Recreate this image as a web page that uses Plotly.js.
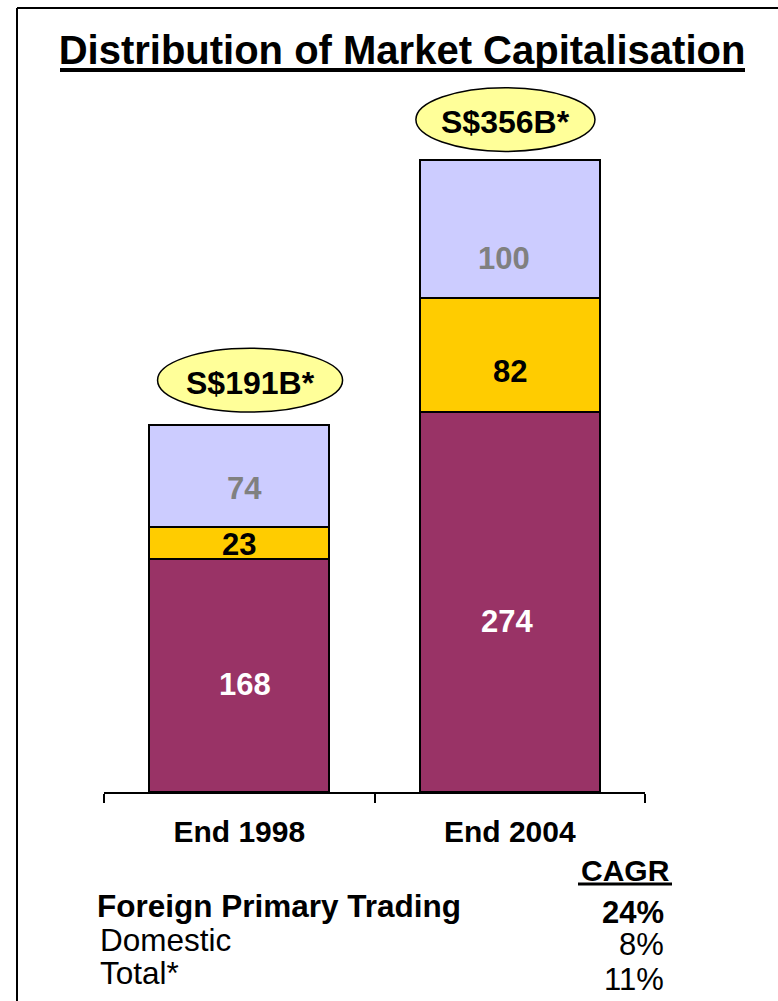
<!DOCTYPE html>
<html>
<head>
<meta charset="utf-8">
<script src="https://cdn.plot.ly/plotly-3.0.1.min.js"></script>
<style>
  html, body { margin: 0; padding: 0; background: #ffffff; }
  #chart { width: 778px; height: 1001px; }
</style>
</head>
<body>
<div id="chart"></div>
<script>
// ---- data ----
const categories = ['End 1998', 'End 2004'];
const domestic = [168, 274];
const foreignPrimary = [23, 82];
const foreignSecondary = [74, 100];
const calloutLabels = ['S$191B*', 'S$356B*'];
const cagrHeader = 'CAGR';
const cagrRows = ['Foreign Primary Trading', 'Domestic', 'Total*'];
const cagrValues = ['24%', '8%', '11%'];
const cagrBold = [true, false, false];

// ---- styling / layout constants ----
const FONT = 'Liberation Sans, Arial, Helvetica, sans-serif';
const W = 778, H = 1001;
const M = { l: 104, r: 133, t: 71, b: 209 };
const plotW = W - M.l - M.r, plotH = H - M.t - M.b;
const px = x => (x - M.l) / plotW;          // pixel -> paper x
const py = y => (H - M.b - y) / plotH;      // pixel -> paper y

const colors = { domestic: '#993366', primary: '#FFCC00', secondary: '#CCCCFF' };
// relative vertical position of value labels inside each segment
const labelFrac = { domestic: [0.46, 0.45], primary: [0.47, 0.36], secondary: [0.38, 0.29] };
const labelColor = { domestic: '#FFFFFF', primary: '#000000', secondary: '#808080' };
const labelDx = { domestic: [0.02, -0.01], primary: [0, 0], secondary: [0.02, -0.02] };
// callout ellipse geometry relative to bar centre / stack top
const callDx = [0.04, -0.016], callHw = [0.342, 0.331];
const callY0 = [9, 6], callY1 = [55, 52];

function barTrace(name, vals, color) {
  return {
    type: 'bar', name: name, x: categories, y: vals,
    marker: { color: color, line: { color: '#000000', width: 2 } },
    hoverinfo: 'x+y+name', showlegend: false
  };
}

const traces = [
  barTrace('Domestic', domestic, colors.domestic),
  barTrace('Foreign Primary Trading', foreignPrimary, colors.primary),
  barTrace('Foreign Secondary', foreignSecondary, colors.secondary)
];

const annotations = [];
const shapes = [];

// value labels inside stacked segments
categories.forEach((c, i) => {
  const segs = [
    ['domestic', domestic[i], 0],
    ['primary', foreignPrimary[i], domestic[i]],
    ['secondary', foreignSecondary[i], domestic[i] + foreignPrimary[i]]
  ];
  segs.forEach(([key, v, base]) => {
    annotations.push({
      x: i + labelDx[key][i], y: base + v * labelFrac[key][i], xref: 'x', yref: 'y',
      text: '<b>' + v + '</b>', showarrow: false,
      font: { family: FONT, size: 31, color: labelColor[key] },
      xanchor: 'center', yanchor: 'middle'
    });
  });
  // callout ellipse above the stack
  const top = domestic[i] + foreignPrimary[i] + foreignSecondary[i];
  shapes.push({
    type: 'circle', xref: 'x', yref: 'y',
    x0: i + callDx[i] - callHw[i], x1: i + callDx[i] + callHw[i],
    y0: top + callY0[i], y1: top + callY1[i],
    fillcolor: '#FFFF99', line: { color: '#000000', width: 1.5 }, layer: 'above'
  });
  annotations.push({
    x: i + callDx[i], y: top + (callY0[i] + callY1[i]) / 2 - 2, xref: 'x', yref: 'y',
    text: '<b>' + calloutLabels[i] + '</b>', showarrow: false,
    font: { family: FONT, size: 32, color: '#000000' },
    xanchor: 'center', yanchor: 'middle'
  });
});

// title underline
shapes.push({ type: 'line', xref: 'paper', yref: 'paper',
  x0: px(60), x1: px(745), y0: py(70), y1: py(70),
  line: { color: '#000000', width: 4 } });
// frame (top + left border)
shapes.push({ type: 'line', xref: 'paper', yref: 'paper',
  x0: px(17), x1: px(790), y0: py(8), y1: py(8), line: { color: '#000000', width: 2 } });
shapes.push({ type: 'line', xref: 'paper', yref: 'paper',
  x0: px(17), x1: px(17), y0: py(8), y1: py(1010), line: { color: '#000000', width: 2 } });

// CAGR table
annotations.push({
  xref: 'paper', yref: 'paper', x: px(672), y: py(870),
  text: '<b>' + cagrHeader + '</b>', showarrow: false,
  font: { family: FONT, size: 30, color: '#000000' }, xanchor: 'right', yanchor: 'middle'
});
shapes.push({ type: 'line', xref: 'paper', yref: 'paper',
  x0: px(578), x1: px(672), y0: py(884), y1: py(884),
  line: { color: '#000000', width: 3 } });

const rowLeftX = [95, 98, 98];
const rowLabelY = [906, 940, 973];
const rowValueY = [912, 945, 980];
cagrRows.forEach((r, k) => {
  const wrap = s => cagrBold[k] ? '<b>' + s + '</b>' : s;
  annotations.push({
    xref: 'paper', yref: 'paper', x: px(rowLeftX[k]), y: py(rowLabelY[k]),
    text: wrap(r), showarrow: false,
    font: { family: FONT, size: 31.5, color: '#000000' }, xanchor: 'left', yanchor: 'middle'
  });
  annotations.push({
    xref: 'paper', yref: 'paper', x: px(666), y: py(rowValueY[k]),
    text: wrap(cagrValues[k]), showarrow: false,
    font: { family: FONT, size: 31, color: '#000000' }, xanchor: 'right', yanchor: 'middle'
  });
});

const layout = {
  width: W, height: H,
  margin: M,
  paper_bgcolor: '#FFFFFF', plot_bgcolor: '#FFFFFF',
  barmode: 'stack', bargap: 1 / 3,
  showlegend: false,
  title: {
    text: '<b>Distribution of Market Capitalisation</b>',
    font: { family: FONT, size: 40, color: '#000000' },
    xref: 'container', yref: 'container',
    x: 402 / W, xanchor: 'center',
    y: 1 - 50 / H, yanchor: 'middle'
  },
  xaxis: {
    type: 'category', range: [-0.5, 1.5],
    showline: true, linecolor: '#000000', linewidth: 2,
    ticks: 'outside', tickson: 'boundaries', ticklen: 9, tickwidth: 2, tickcolor: '#000000',
    ticklabelstandoff: 12,
    tickfont: { family: FONT, size: 30, color: '#000000' },
    showgrid: false, zeroline: false, fixedrange: true
  },
  yaxis: {
    range: [0, 520], visible: false, showgrid: false, zeroline: false, fixedrange: true
  },
  annotations: annotations,
  shapes: shapes
};

// bold tick labels via ticktext
layout.xaxis.tickmode = 'array';
layout.xaxis.tickvals = categories;
layout.xaxis.ticktext = categories.map(c => '<b>' + c + '</b>');

Plotly.newPlot('chart', traces, layout, { displayModeBar: false, staticPlot: true });
</script>
</body>
</html>
